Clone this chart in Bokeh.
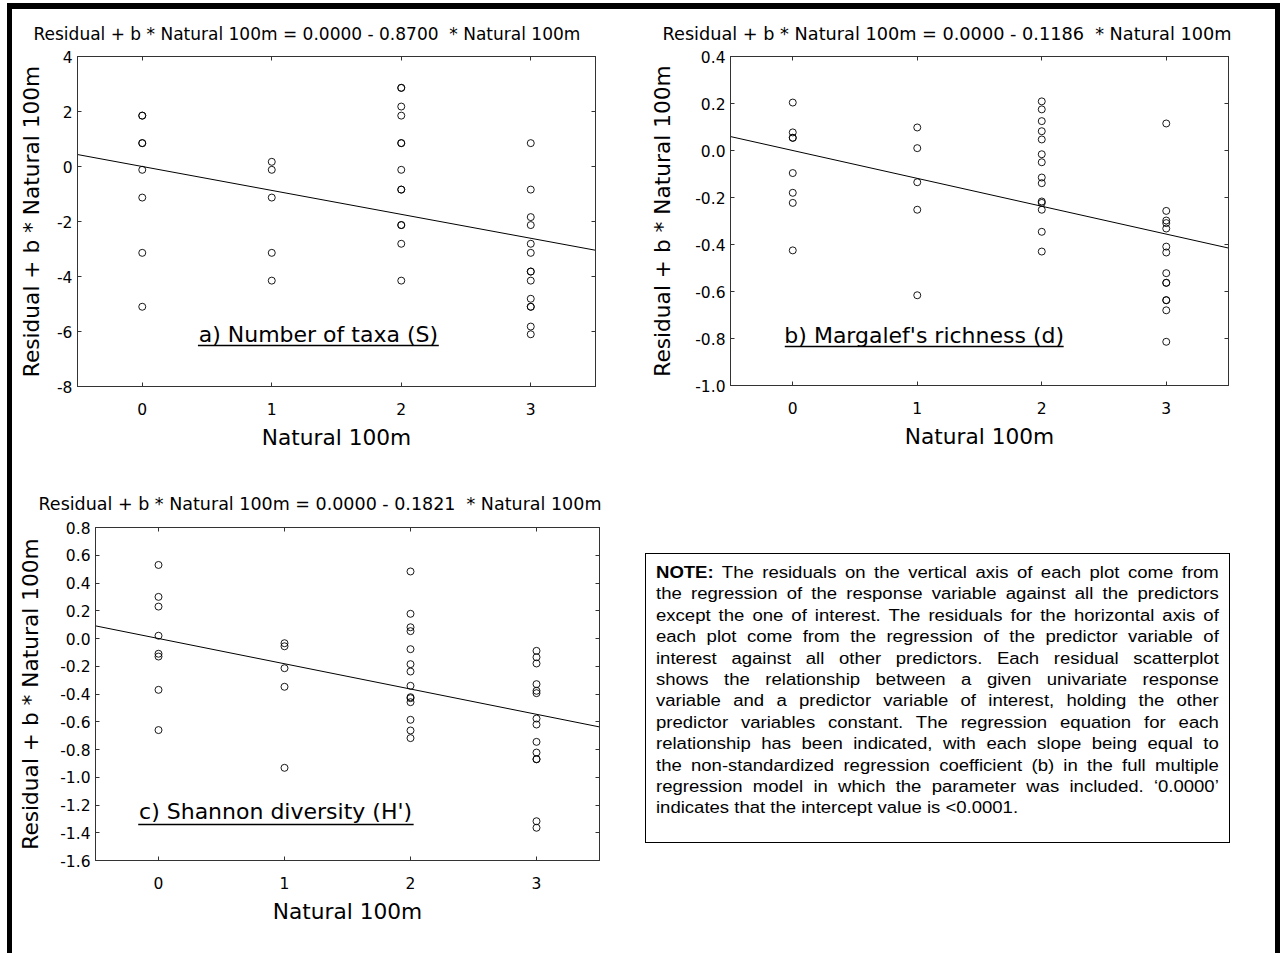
from bokeh.plotting import figure
from bokeh.models import LinearAxis, FixedTicker, Range1d, Div, Spacer, PrintfTickFormatter
from bokeh.layouts import row, column
from bokeh.embed import file_html
from bokeh.resources import INLINE
from bokeh.core.properties import value

FONT = "DejaVu Sans"

# shared axis setup
predictor_name = "Natural 100m"
x_ticks = [0, 1, 2, 3]
x_limits = (-0.5, 3.5)
y_axis_title = "Residual + b * Natural 100m"

# a) Number of taxa (S)
taxa_x = [0] * 8 + [1] * 5 + [2] * 13 + [3] * 14
taxa_y = [1.85, 1.85, 0.85, 0.85, -0.12, -1.13, -3.14, -5.10,
          0.17, -0.12, -1.13, -3.14, -4.15,
          2.86, 2.86, 2.18, 1.85, 0.85, 0.85, -0.12, -0.84, -0.84, -2.13, -2.13, -2.81, -4.15,
          0.85, -0.84, -1.84, -2.13, -2.81, -3.14, -3.82, -3.82, -4.15, -4.81, -5.10, -5.10, -5.82, -6.10]
taxa_intercept = 0.0
taxa_slope = -0.8700
taxa_yticks = [-8, -6, -4, -2, 0, 2, 4]

# b) Margalef's richness (d)
margalef_x = [0] * 8 + [1] * 5 + [2] * 14 + [3] * 14
margalef_y = [0.204, 0.077, 0.054, 0.054, -0.096, -0.180, -0.223, -0.425,
              0.098, 0.010, -0.135, -0.252, -0.616,
              0.209, 0.175, 0.125, 0.082, 0.047, -0.016, -0.050, -0.115, -0.139, -0.217, -0.223,
              -0.252, -0.346, -0.430,
              0.115, -0.257, -0.298, -0.309, -0.332, -0.409, -0.434, -0.522, -0.563, -0.563,
              -0.637, -0.637, -0.680, -0.814]
margalef_intercept = 0.0
margalef_slope = -0.1186
margalef_yticks = [-1.0, -0.8, -0.6, -0.4, -0.2, 0.0, 0.2, 0.4]

# c) Shannon diversity (H')
shannon_x = [0] * 8 + [1] * 5 + [2] * 14 + [3] * 14
shannon_y = [0.53, 0.30, 0.23, 0.02, -0.11, -0.13, -0.37, -0.66,
             -0.034, -0.056, -0.214, -0.348, -0.932,
             0.483, 0.178, 0.081, 0.053, -0.077, -0.185, -0.238, -0.341, -0.423, -0.430,
             -0.459, -0.586, -0.663, -0.718,
             -0.089, -0.135, -0.180, -0.329, -0.377, -0.394, -0.577, -0.620, -0.745, -0.822,
             -0.870, -0.870, -1.317, -1.364]
shannon_intercept = 0.0
shannon_slope = -0.1821
shannon_yticks = [-1.6, -1.4, -1.2, -1.0, -0.8, -0.6, -0.4, -0.2, 0.0, 0.2, 0.4, 0.6, 0.8]

note_lines = [
    "<b>NOTE:</b> The residuals on the vertical axis of each plot come from",
    "the regression of the response variable against all the predictors",
    "except the one of interest. The residuals for the horizontal axis of",
    "each plot come from the regression of the predictor variable of",
    "interest against all other predictors. Each residual scatterplot",
    "shows the relationship between a given univariate response",
    "variable and a predictor variable of interest, holding the other",
    "predictor variables constant. The regression equation for each",
    "relationship has been indicated, with each slope being equal to",
    "the non-standardized regression coefficient (b) in the full multiple",
    "regression model in which the parameter was included. \u20180.0000\u2019",
    "indicates that the intercept value is &lt;0.0001.",
]

AXIS_COLOR = "#333333"


def style_axis(ax, ticks, fmt=None, show_labels=True):
    ax.ticker = FixedTicker(ticks=ticks)
    if fmt is not None:
        ax.formatter = PrintfTickFormatter(format=fmt)
    ax.major_tick_in = 4
    ax.major_tick_out = 0
    ax.minor_tick_line_color = None
    ax.axis_line_color = AXIS_COLOR
    ax.major_tick_line_color = AXIS_COLOR
    ax.major_label_text_font = FONT
    if show_labels:
        ax.major_label_text_font_size = "15.5px"
        ax.major_label_text_color = "black"
    else:
        # tick marks only on the opposite frame edges
        ax.major_label_text_font_size = "0px"
        ax.major_label_text_color = None
        ax.major_label_standoff = 0


def panel(xs, ys, intercept, slope, yticks, yfmt, borders, frame, title_offset, title_size,
          title_standoff, ylab_standoff, label, label_xy, underline):
    left, right, top, bottom = borders
    fw, fh = frame
    p = figure(frame_width=fw, frame_height=fh,
               min_border_left=left, min_border_right=right,
               min_border_top=top, min_border_bottom=bottom,
               x_range=Range1d(*x_limits), y_range=Range1d(yticks[0], yticks[-1]),
               output_backend="svg", toolbar_location=None,
               background_fill_color="white", border_fill_color="white")
    p.grid.visible = False
    p.outline_line_color = AXIS_COLOR

    style_axis(p.xaxis[0], x_ticks)
    style_axis(p.yaxis[0], yticks, yfmt)
    p.xaxis.axis_label = predictor_name
    p.yaxis.axis_label = y_axis_title
    for ax in (p.xaxis[0], p.yaxis[0]):
        ax.axis_label_text_font = FONT
        ax.axis_label_text_font_size = "21.7px"
        ax.axis_label_text_font_style = "normal"
        ax.axis_label_text_color = "black"
    p.xaxis.major_label_standoff = 16
    p.xaxis.axis_label_standoff = 7
    p.yaxis.major_label_standoff = 5
    p.yaxis.axis_label_standoff = ylab_standoff

    top_ax = LinearAxis()
    style_axis(top_ax, x_ticks, show_labels=False)
    p.add_layout(top_ax, "above")
    right_ax = LinearAxis()
    style_axis(right_ax, yticks, show_labels=False)
    p.add_layout(right_ax, "right")

    sign = "-" if slope < 0 else "+"
    p.title.text = (f"{y_axis_title} = {intercept:.4f} {sign} {abs(slope):.4f}\u00a0 * {predictor_name}")
    p.title.text_font = FONT
    p.title.text_font_size = title_size
    p.title.text_font_style = "normal"
    p.title.text_color = "black"
    p.title.align = "left"
    p.title.offset = title_offset
    p.title.standoff = title_standoff

    # fitted partial-regression line across the whole x range
    lx = list(x_limits)
    ly = [intercept + slope * v for v in lx]
    p.line(lx, ly, line_color="black", line_width=1)

    p.scatter(xs, ys, marker="circle", size=7, fill_color=None,
              line_color="black", line_width=0.9)

    lx0, ly0 = label_xy
    p.text(x=[lx0], y=[ly0], text=[label], text_font=value(FONT),
           text_font_size="22px", text_align="center", text_baseline="middle",
           text_color="black")
    ux0, ux1, uy = underline
    p.segment(x0=[ux0], y0=[uy], x1=[ux1], y1=[uy], line_color="black", line_width=1.6)
    return p


fig_a = panel(taxa_x, taxa_y, taxa_intercept, taxa_slope, taxa_yticks, "%d",
              borders=(65, 45, 47, 79), frame=(518, 330), title_offset=-44, title_size="17px",
              title_standoff=25, ylab_standoff=10, label="a) Number of taxa (S)",
              label_xy=(1.36, -6.11), underline=(0.43, 2.29, -6.51))

fig_b = panel(margalef_x, margalef_y, margalef_intercept, margalef_slope, margalef_yticks, "%.1f",
              borders=(90, 47, 47, 80), frame=(498, 329), title_offset=-68, title_size="17.7px",
              title_standoff=25, ylab_standoff=17, label="b) Margalef's richness (d)",
              label_xy=(1.056, -0.787), underline=(-0.064, 2.176, -0.834))

fig_c = panel(shannon_x, shannon_y, shannon_intercept, shannon_slope, shannon_yticks, "%.1f",
              borders=(83, 41, 62, 93), frame=(504, 333), title_offset=-57, title_size="17.5px",
              title_standoff=28, ylab_standoff=14, label="c) Shannon diversity (H')",
              label_xy=(0.929, -1.247), underline=(-0.161, 2.025, -1.34))

line_html = []
for i, ln in enumerate(note_lines):
    last = "left" if i == len(note_lines) - 1 else "justify"
    line_html.append(f'<div style="text-align:justify;text-align-last:{last};">{ln}</div>')
note_html = (
    '<div style="box-sizing:border-box;width:585px;height:290px;border:1.5px solid black;'
    'padding:8px 11px 0 10px;background:white;overflow:hidden;">'
    '<div style="width:486px;transform:scaleX(1.158);transform-origin:0 0;'
    'font-family:\'Liberation Sans\',Arial,sans-serif;font-size:16px;'
    'line-height:21.4px;color:black;">' + "".join(line_html) + "</div></div>"
)
note = Div(text=note_html, width=585, height=290, margin=0)
note_col = column(Spacer(width=635, height=88, margin=0),
                  row(Spacer(width=5, height=290, margin=0), note),
                  spacing=0)


def bar(w, h):
    return Div(text="", width=w, height=h, margin=0, styles={"background-color": "black"})


content = column(row(fig_a, fig_b, spacing=0), row(fig_c, note_col, spacing=0), spacing=0)
page = column(
    Spacer(width=1282, height=3, margin=0),
    row(Spacer(width=7, height=6, margin=0), bar(1273, 6)),
    row(Spacer(width=7, height=944, margin=0), bar(5, 944), content, bar(5, 944)),
    spacing=0,
)

open("out.html", "w").write(file_html(page, INLINE))
